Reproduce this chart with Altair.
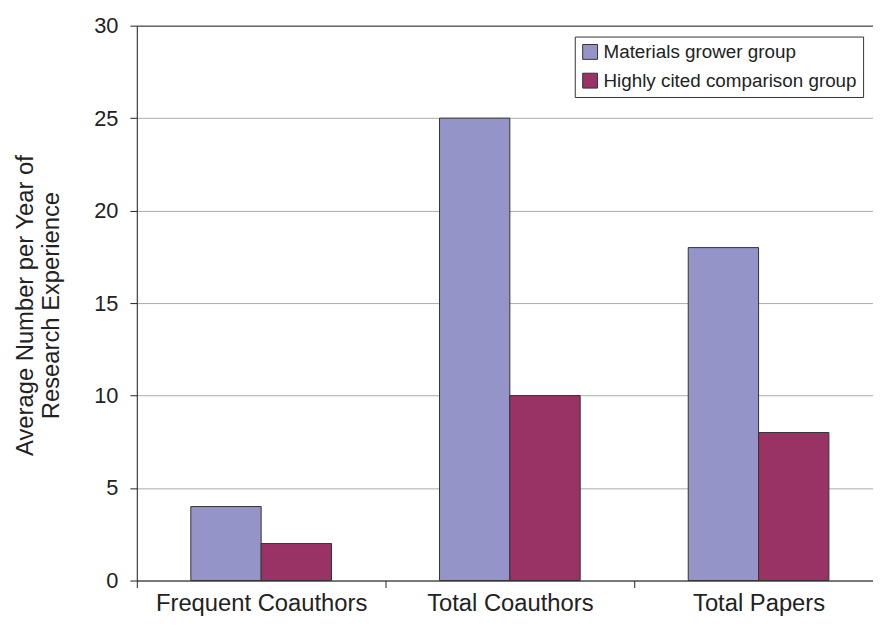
import altair as alt
import pandas as pd

categories = ["Frequent Coauthors", "Total Coauthors", "Total Papers"]
groups = ["Materials grower group", "Highly cited comparison group"]
materials_values = [4, 25, 18]
highly_cited_values = [2, 10, 8]

rows = []
for c, m, h in zip(categories, materials_values, highly_cited_values):
    rows.append({"category": c, "group": groups[0], "value": m})
    rows.append({"category": c, "group": groups[1], "value": h})
df = pd.DataFrame(rows)

FONT = "Liberation Sans"
TXT = "#222222"

chart = alt.Chart(df).mark_bar(stroke="#333333", strokeWidth=1).encode(
    x=alt.X(
        "category:N",
        sort=categories,
        scale=alt.Scale(range=[0, 753], paddingInner=0, paddingOuter=0),
        axis=alt.Axis(
            title=None,
            labelAngle=0,
            labelFontSize=24,
            labelFont=FONT,
            labelColor=TXT,
            labelPadding=4,
            labelLimit=400,
            tickBand="extent",
            tickSize=7,
            tickColor="#222222",
            domainColor="#222222",
            grid=False,
        ),
    ),
    xOffset=alt.XOffset(
        "group:N",
        sort=groups,
        scale=alt.Scale(paddingInner=0, paddingOuter=0.768),
    ),
    y=alt.Y(
        "value:Q",
        scale=alt.Scale(domain=[0, 30]),
        axis=alt.Axis(
            title=["Average Number per Year of", "Research Experience"],
            titleFontSize=24,
            titleFont=FONT,
            titleFontWeight="normal",
            titleColor=TXT,
            titleLineHeight=26,
            titleX=-100,
            titleY=282,
            titleAngle=-90,
            titleAlign="center",
            titleBaseline="bottom",
            values=[0, 5, 10, 15, 20, 25, 30],
            labelFontSize=22,
            labelFont=FONT,
            labelColor=TXT,
            labelPadding=12,
            tickSize=7,
            tickColor="#222222",
            domainColor="#222222",
            gridColor={
                "condition": {"test": "datum.value === 30", "value": "#222222"},
                "value": "#aaaaaa",
            },
            gridWidth=1,
        ),
    ),
    color=alt.Color(
        "group:N",
        sort=groups,
        scale=alt.Scale(domain=groups, range=["#9494C8", "#993366"]),
        legend=alt.Legend(
            title=None,
            orient="none",
            legendX=442,
            legendY=11,
            labelFontSize=19,
            labelFont=FONT,
            labelColor=TXT,
            labelLimit=400,
            symbolType="square",
            symbolSize=225,
            symbolStrokeColor="#333333",
            symbolStrokeWidth=1,
            symbolOpacity=1,
            labelOffset=4,
            rowPadding=9,
            padding=6,
            strokeColor="#333333",
            fillColor="white",
        ),
    ),
).properties(
    width=743,
    height=560,
    autosize=alt.AutoSizeParams(type="none"),
    padding={"left": 130, "top": 15, "right": 0, "bottom": 35},
).configure_view(stroke=None).configure(background="white")

chart.save("out.html", embed_options={"renderer": "svg", "actions": False})
